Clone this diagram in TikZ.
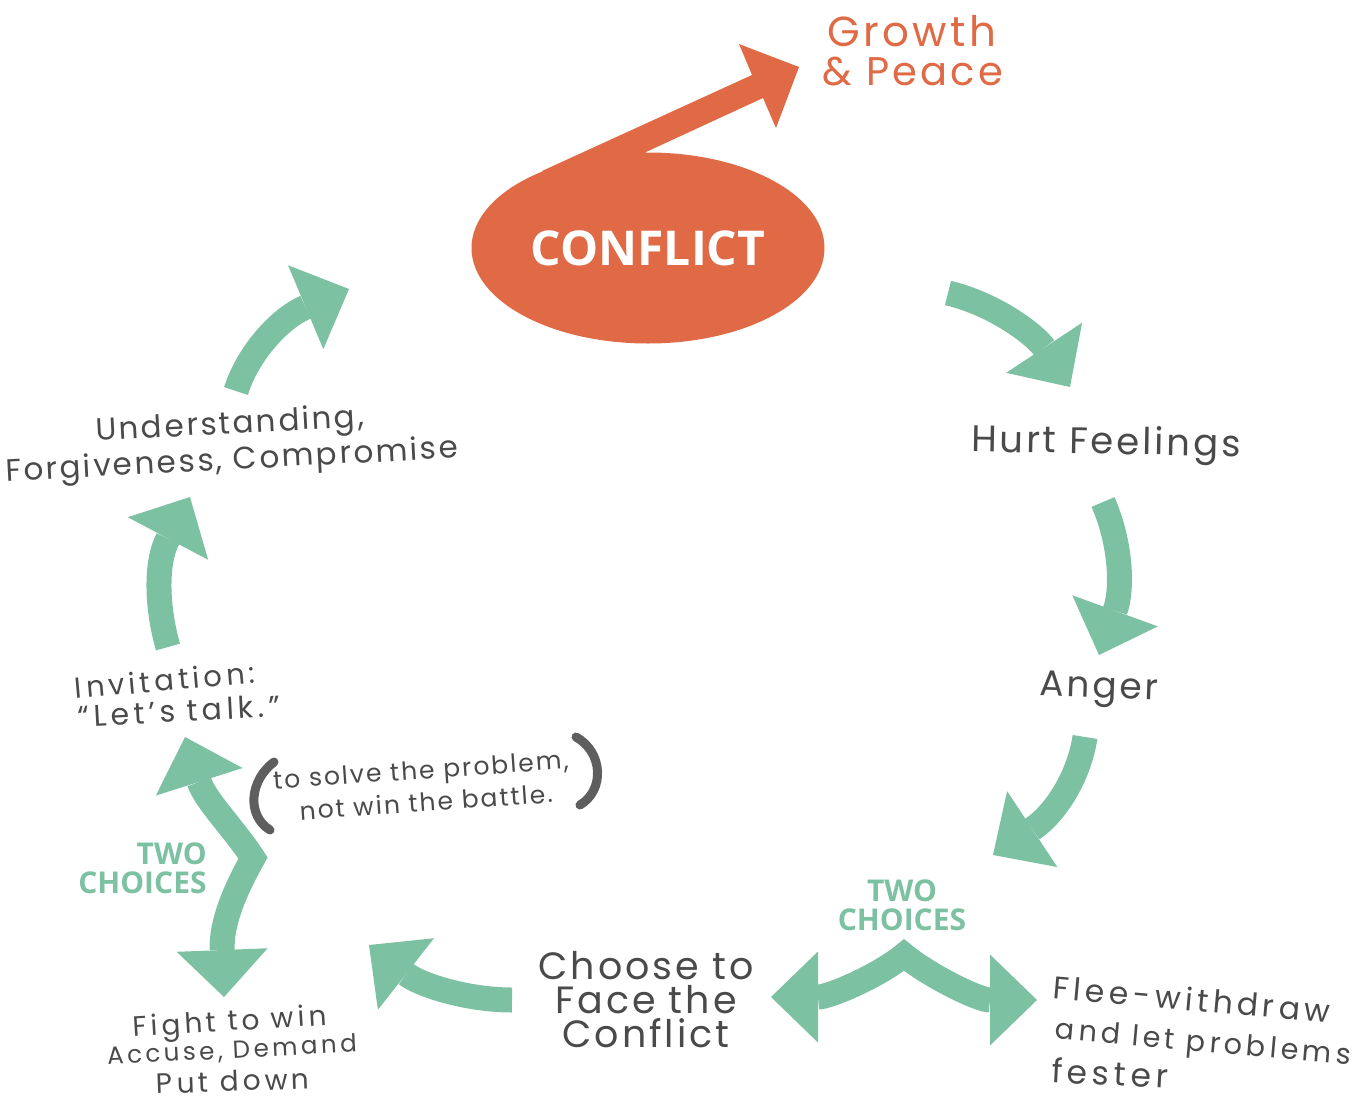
\documentclass[tikz,border=0pt]{standalone}
\usepackage{fontspec}
\setmainfont{Poppins}
\newfontfamily\hand{Poppins}[LetterSpace=8]
\newfontfamily\handw{Poppins}[LetterSpace=14]
\newfontfamily\heavy{Open Sans}
\usetikzlibrary{arrows.meta,shapes.geometric}
\definecolor{orng}{HTML}{E06A45}
\definecolor{grn}{HTML}{7DC1A3}
\definecolor{ink}{HTML}{4A4A4A}
\definecolor{paren}{HTML}{5E5E5E}
\tikzset{
  hand/.style 2 args={text=ink, inner sep=0pt, font={\hand\fontsize{#1}{#2}\selectfont}},
  handw/.style={text=ink, inner sep=0pt, font={\handw\fontsize{#1}{#1}\selectfont}},
  choice/.style={text=grn, inner sep=0pt, font={\heavy\bfseries\fontsize{15}{14.5}\selectfont}},
  tipgrn/.tip={Triangle[length=23.5pt,width=45.5pt,line width=0pt]},
  flow/.style={draw=grn, line width=12.5pt, -tipgrn},
  fork/.style={draw=grn, line width=12.5pt, tipgrn-tipgrn, line join=miter},
  parenline/.style={draw=paren, line width=4.5pt, line cap=round}
}
\begin{document}
\begin{tikzpicture}[x=0.5pt,y=-0.5pt]
\fill[white] (0,0) rectangle (1371,1103);
\useasboundingbox (0,0) rectangle (1371,1103);

% conflict blob with arrow to growth
\fill[orng] (542,171) -- (752,75) -- (739,44) -- (799,67) -- (776,128) -- (763,98) -- (646,152) -- (600,220) -- cycle;
\node[ellipse, fill=orng, minimum width=176.5pt, minimum height=95.5pt, inner sep=0pt,
      text=white, font={\heavy\bfseries\fontsize{24}{24}\selectfont}] (conflict) at (648,248) {CONFLICT};
\node[hand={21}{20.5}, text=orng] (growth1) at (912,31) {Growth};
\node[hand={20}{20}, text=orng] (growth2) at (913,72) {\& Peace};

% text nodes
\node[hand={18.5}{20}, rotate=-1] (hurt) at (1106,445) {Hurt Feelings};
\node[hand={18}{20}, rotate=-2] (anger) at (1099,690) {Anger};
\node[choice, align=center] (two2) at (902,905) {TWO\\CHOICES};
\node[hand={19}{17}, align=center] (choose) at (646,1000) {Choose to\\Face the\\Conflict};
\node[handw=15.7, rotate=-5] (flee1) at (1192,999) {Flee-withdraw};
\node[handw=14.3, rotate=-5] (flee2) at (1203,1045) {and let problems};
\node[handw=16.5, rotate=-3] (flee3) at (1110,1073) {fester};
\node[handw=14, rotate=3.5] (fight1) at (230,1024) {Fight to win};
\node[handw=12.3, rotate=3] (fight2) at (232,1051) {Accuse, Demand};
\node[handw=14, rotate=2] (fight3) at (233,1081) {Put down};
\node[choice, align=right, anchor=east] (two1) at (207,868) {TWO\\CHOICES};
\node[hand={12.5}{15}, rotate=4] (solve1) at (421,773) {to solve the problem,};
\node[hand={12.5}{15}, rotate=4] (solve2) at (426,802) {not win the battle.};
\node[handw=14.5, rotate=5] (invite1) at (165,680) {Invitation:};
\node[handw=15, rotate=3] (invite2) at (179,711) {“Let’s talk.”};
\node[hand={15.5}{18}, rotate=3] (underst1) at (230,426) {Understanding,};
\node[hand={15.5}{18}, rotate=3] (underst2) at (232,462) {Forgiveness, Compromise};

% parentheses
\draw[parenline] (274,762) .. controls (250,780) and (246,815) .. (270,830);
\draw[parenline] (576,737) .. controls (603,752) and (605,790) .. (580,805);

% arrow end points
\coordinate (a1s) at (948,293);  \coordinate (a1e) at (1070,387);
\coordinate (a2s) at (1103,502); \coordinate (a2e) at (1099,655);
\coordinate (a3s) at (1085,737); \coordinate (a3e) at (993,855);
\coordinate (fl) at (771,997);   \coordinate (fa) at (904,955);   \coordinate (fr) at (1037,1000);
\coordinate (a5s) at (512,1000); \coordinate (a5e) at (369,945);
\coordinate (ku) at (185,737);   \coordinate (kk) at (253,858);   \coordinate (kd) at (224,997);
\coordinate (a7s) at (168,647);  \coordinate (a7e) at (190,497);
\coordinate (a6s) at (236,391);  \coordinate (a6e) at (349,289);

% green arrows
\draw[flow] (a1s) .. controls (998,305) and (1037,337) .. (a1e);
\draw[flow] (a2s) .. controls (1121,543) and (1123,589) .. (a2e);
\draw[flow] (a3s) .. controls (1079,777) and (1055,814) .. (a3e);
\draw[fork] (fl) .. controls (830,997) and (880,975) .. (fa) .. controls (928,975) and (978,1000) .. (fr);
\draw[flow] (a5s) .. controls (467,1000) and (420,985) .. (a5e);
\draw[fork] (ku) .. controls (205,800) and (235,830) .. (kk) .. controls (238,885) and (221,920) .. (kd);
\draw[flow] (a7s) .. controls (157,609) and (155,563) .. (a7e);
\draw[flow] (a6s) .. controls (248,353) and (280,318) .. (a6e);
\end{tikzpicture}
\end{document}
